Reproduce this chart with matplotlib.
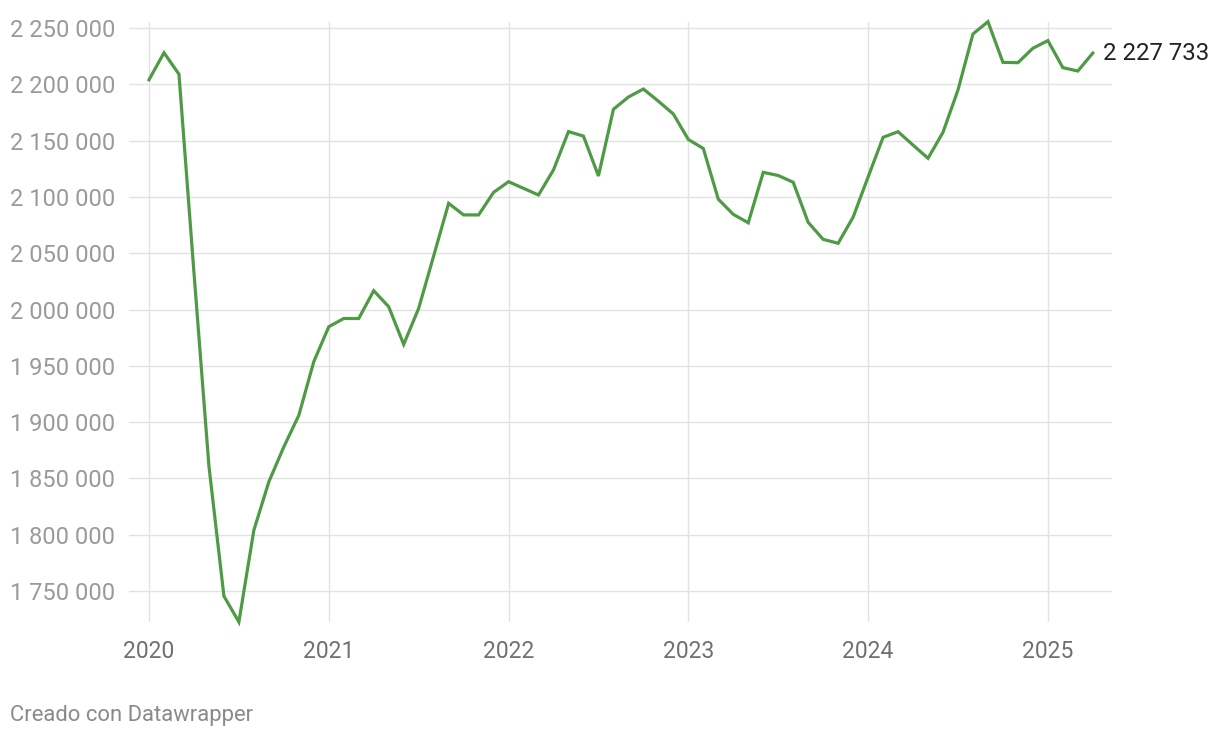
import matplotlib.pyplot as plt
import numpy as np

# monthly values, Jan 2020 .. Apr 2025
values = [
    2204000, 2228000, 2209000, 2033000, 1861000, 1745500, 1722500, 1804000,
    1847000, 1878000, 1906000, 1953700, 1984700, 1992000, 1992000, 2016700,
    2002500, 1969000, 2001000, 2047500, 2094300, 2084000, 2084000, 2104000,
    2113500, 2107600, 2101700, 2124000, 2158000, 2154000, 2118600, 2177800,
    2188700, 2195800, 2185000, 2173600, 2151000, 2143000, 2098000, 2084500,
    2077000, 2121800, 2119000, 2113000, 2077400, 2062300, 2058800, 2082000,
    2117700, 2152900, 2157900, 2146000, 2134300, 2157400, 2195000, 2244700,
    2255600, 2219500, 2219200, 2232000, 2238800, 2214800, 2211800, 2227733,
]
years = ["2020", "2021", "2022", "2023", "2024", "2025"]
y_ticks = [1750000, 1800000, 1850000, 1900000, 1950000, 2000000,
           2050000, 2100000, 2150000, 2200000, 2250000]
last_label = "2 227 733"

plt.rcParams['font.family'] = ['Roboto', 'DejaVu Sans']

W, H = 1220, 738
fig = plt.figure(figsize=(W / 100, H / 100), dpi=100)
ax = fig.add_axes([129 / W, (H - 622) / H, (1112 - 129) / W, 600 / H])

x = np.arange(len(values))
ax.plot(x, values, color='#4f9a45', lw=2.3, clip_on=False, zorder=3,
        solid_joinstyle='miter')

ax.set_xlim(-1.335, 64.28)
ax.set_ylim(1722470, 2255330)

ax.set_yticks(y_ticks)
ax.set_yticklabels([f"{v:,}".replace(",", " ") for v in y_ticks])
ax.set_xticks(np.arange(len(years)) * 12)
ax.set_xticklabels(years)

ax.grid(True, color='#e2e2e2', lw=1.0, zorder=0)
ax.tick_params(axis='both', length=0)
ax.tick_params(axis='y', pad=10, labelsize=17, labelcolor='#9a9a9a')
ax.tick_params(axis='x', pad=13, labelsize=16.5, labelcolor='#707070')
for s in ax.spines.values():
    s.set_visible(False)

ax.annotate(last_label, xy=(x[-1], values[-1]), xytext=(7.5, 0),
            textcoords='offset points', ha='left', va='center',
            fontsize=17.3, color='#222222', annotation_clip=False)

fig.text(10 / W, 1 - 715 / H, "Creado con Datawrapper", ha='left',
         va='center', fontsize=15.8, color='#8a8a8a')

fig.savefig('out.png', dpi=100)
